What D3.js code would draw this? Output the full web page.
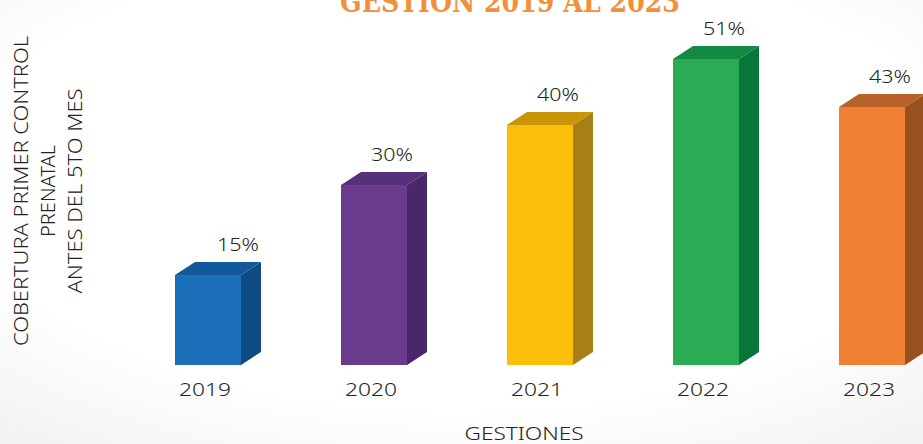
<!DOCTYPE html>
<html>
<head>
<meta charset="utf-8">
<script src="https://cdn.jsdelivr.net/npm/d3@7/dist/d3.min.js"></script>
<style>
  body { margin: 0; background: #fff; }
  svg { display: block; }
  text { font-family: "Noto Sans", sans-serif; font-weight: 300; fill: #222; }
</style>
</head>
<body>
<div id="chart"></div>
<script>
// datos del grafico
var years = ["2019", "2020", "2021", "2022", "2023"];
var values = [15, 30, 40, 51, 43];
var frontColors = ["#1a6fb8", "#6a3b8d", "#fbbf0b", "#2cab55", "#ee7f33"];
var sideColors = ["#0e4b82", "#48276b", "#a67f16", "#08753a", "#985020"];
var topColors = ["#11599b", "#57307c", "#c89508", "#128a42", "#b8622a"];
var yLabel = ["COBERTURA PRIMER CONTROL", "PRENATAL", "ANTES DEL 5TO MES"];
var yLabelLen = [310, 92, 205];

var width = 923, height = 444;
var depthX = 20, depthY = 13;

var svg = d3.select("#chart").append("svg")
    .attr("width", width)
    .attr("height", height);

// fondo con sombra muy suave
var defs = svg.append("defs");
var grad = defs.append("radialGradient").attr("id", "bg")
    .attr("cx", "50%").attr("cy", "40%").attr("r", "75%");
grad.append("stop").attr("offset", "70%").attr("stop-color", "#ffffff");
grad.append("stop").attr("offset", "100%").attr("stop-color", "#f3f3f3");
svg.append("rect").attr("width", width).attr("height", height).attr("fill", "url(#bg)");

var x = d3.scaleBand()
    .domain(years)
    .range([175, 905])
    .paddingInner(0.6024)
    .paddingOuter(0);

var y = d3.scaleLinear()
    .domain([0, 60])
    .range([365, 5]);

var bars = svg.selectAll("g.bar")
    .data(years)
    .enter().append("g")
    .attr("class", "bar");

// cara frontal
bars.append("rect")
    .attr("x", function(d) { return x(d); })
    .attr("y", function(d, i) { return y(values[i]); })
    .attr("width", x.bandwidth())
    .attr("height", function(d, i) { return y(0) - y(values[i]); })
    .attr("fill", function(d, i) { return frontColors[i]; });

// cara lateral
bars.append("path")
    .attr("d", function(d, i) {
        var x1 = x(d) + x.bandwidth(), yt = y(values[i]), yb = y(0);
        return "M" + x1 + "," + yt + "L" + (x1 + depthX) + "," + (yt - depthY) +
               "L" + (x1 + depthX) + "," + (yb - depthY) + "L" + x1 + "," + yb + "Z";
    })
    .attr("fill", function(d, i) { return sideColors[i]; });

// cara superior
bars.append("path")
    .attr("d", function(d, i) {
        var x0 = x(d), x1 = x0 + x.bandwidth(), yt = y(values[i]);
        return "M" + x0 + "," + yt + "L" + (x0 + depthX) + "," + (yt - depthY) +
               "L" + (x1 + depthX) + "," + (yt - depthY) + "L" + x1 + "," + yt + "Z";
    })
    .attr("fill", function(d, i) { return topColors[i]; });

// etiquetas de valor
bars.append("text")
    .attr("x", function(d, i) { return x(d) + x.bandwidth() / 2 + (i == 0 ? 30 : 18); })
    .attr("y", function(d, i) { return y(values[i]) - depthY - 11; })
    .attr("text-anchor", "middle")
    .attr("textLength", 42)
    .attr("lengthAdjust", "spacingAndGlyphs")
    .style("font-size", "18px")
    .text(function(d, i) { return values[i] + "%"; });

// eje x (solo etiquetas)
var xAxis = svg.append("g")
    .attr("transform", "translate(-3," + 365 + ")")
    .call(d3.axisBottom(x).tickSize(0).tickPadding(17.5));
xAxis.select(".domain").remove();
xAxis.selectAll("text")
    .style("font-family", "'Noto Sans', sans-serif")
    .style("font-weight", "300")
    .style("font-size", "19px")
    .attr("textLength", 52)
    .attr("lengthAdjust", "spacingAndGlyphs")
    .attr("fill", "#222");

svg.append("text")
    .attr("x", 524)
    .attr("y", 440)
    .attr("text-anchor", "middle")
    .attr("textLength", 119)
    .attr("lengthAdjust", "spacingAndGlyphs")
    .style("font-size", "18px")
    .text("GESTIONES");

// titulo del eje y
svg.append("g")
    .attr("transform", "translate(28,191) rotate(-90)")
    .selectAll("text")
    .data(yLabel)
    .enter().append("text")
    .attr("x", 0)
    .attr("y", function(d, i) { return i * 27; })
    .attr("text-anchor", "middle")
    .attr("textLength", function(d, i) { return yLabelLen[i]; })
    .attr("lengthAdjust", "spacingAndGlyphs")
    .style("font-size", "20px")
    .text(function(d) { return d; });

// titulo (cortado arriba)
svg.append("text")
    .attr("x", 510)
    .attr("y", 12)
    .attr("text-anchor", "middle")
    .attr("textLength", 340)
    .attr("lengthAdjust", "spacingAndGlyphs")
    .style("font-family", "'DejaVu Serif', serif")
    .style("font-weight", "bold")
    .style("font-size", "30px")
    .style("fill", "#f2903a")
    .text("GESTION 2019 AL 2023");
</script>
</body>
</html>
